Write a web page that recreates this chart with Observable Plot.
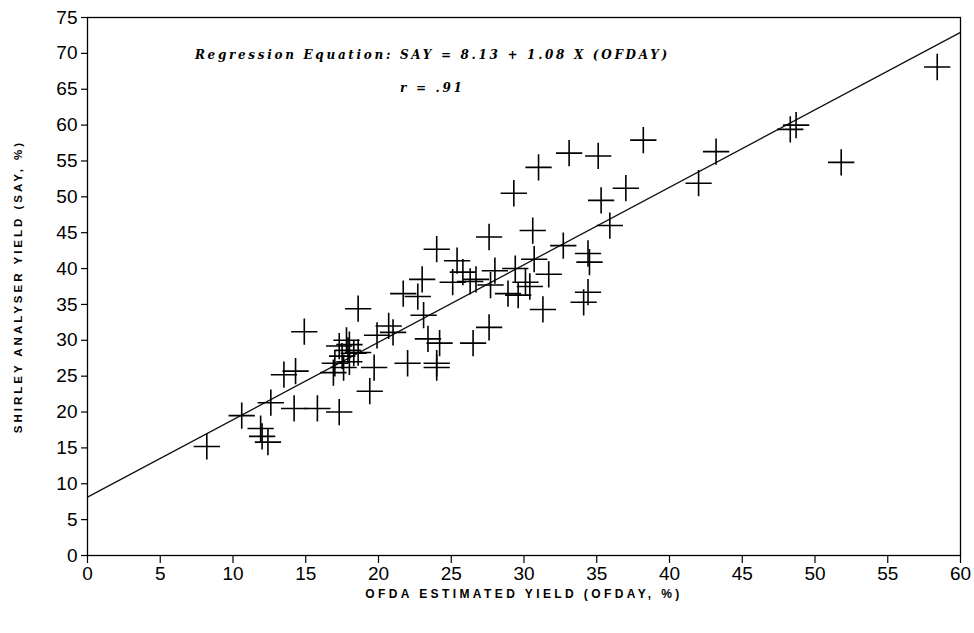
<!DOCTYPE html>
<html>
<head>
<meta charset="utf-8">
<script src="https://cdn.jsdelivr.net/npm/d3@7"></script>
<script src="https://cdn.jsdelivr.net/npm/@observablehq/plot@0.6"></script>
<style>
  html, body { margin: 0; padding: 0; background: #fff; }
  #chart svg { display: block; }
</style>
</head>
<body>
<div id="chart"></div>
<script>
// OFDA estimated yield (x) and Shirley Analyser yield (y), %
const ofday = [8.2, 10.6, 11.9, 12.0, 12.4, 12.6, 13.5, 14.3, 14.2, 14.9, 15.8, 17.3, 16.9, 17.0, 17.3, 17.5, 17.8, 17.9, 18.0, 18.3, 18.6, 17.6, 18.0, 18.6, 19.4, 19.7, 19.9, 20.7, 21.0, 21.7, 22.0, 22.7, 23.0, 23.1, 23.4, 24.0, 24.2, 24.0, 24.0, 25.1, 25.4, 25.8, 26.3, 26.5, 26.7, 27.6, 27.6, 27.7, 28.0, 28.9, 29.3, 29.4, 29.6, 30.1, 30.4, 30.6, 30.7, 31.0, 31.3, 31.7, 32.7, 33.1, 34.4, 34.1, 34.4, 34.5, 35.1, 35.3, 35.9, 37.0, 38.2, 42.0, 43.2, 48.3, 48.7, 51.8, 58.4];
const say   = [15.2, 19.5, 17.7, 16.6, 15.8, 21.3, 25.2, 25.7, 20.5, 31.2, 20.5, 20.0, 25.5, 26.8, 29.2, 27.8, 30.0, 28.6, 27.0, 28.2, 28.3, 26.2, 29.4, 34.4, 22.9, 26.2, 30.7, 32.0, 31.1, 36.5, 26.8, 36.1, 38.5, 33.5, 30.2, 42.7, 29.6, 26.8, 26.2, 38.1, 41.1, 39.5, 38.2, 29.6, 38.5, 44.4, 31.8, 37.7, 39.7, 36.5, 50.5, 40.0, 36.3, 38.1, 37.5, 45.3, 41.3, 54.1, 34.3, 39.2, 43.2, 56.1, 36.7, 35.3, 42.1, 40.9, 55.7, 49.5, 46.0, 51.2, 57.9, 51.9, 56.3, 59.4, 60.0, 54.8, 68.1];

const intercept = 8.13;
const slope = 1.08;
const xDomain = [0, 60];
const yDomain = [0, 75];
const xTicks = d3.range(0, 61, 5);
const yTicks = d3.range(0, 76, 5);
const xLabel = "OFDA ESTIMATED YIELD (OFDAY, %)";
const yLabel = "SHIRLEY ANALYSER YIELD (SAY, %)";
const equationText = "Regression Equation: SAY = 8.13 + 1.08 X (OFDAY)";
const rText = "r = .91";
const annotX = [23.7, 23.7];
const annotY = [69.7, 65.2];

const points = ofday.map((x, i) => ({x, y: say[i]}));
const annots = [equationText, rText].map((t, i) => ({t, x: annotX[i], y: annotY[i]}));

const chart = Plot.plot({
  width: 974,
  height: 633,
  marginLeft: 87,
  marginRight: 14,
  marginTop: 17,
  marginBottom: 78,
  style: {fontFamily: "Liberation Sans, Arial, sans-serif", background: "#fff", color: "#000"},
  x: {domain: xDomain, ticks: xTicks, label: null},
  y: {domain: yDomain, ticks: yTicks, label: null},
  marks: [
    Plot.frame({stroke: "#000", strokeWidth: 1.3}),
    Plot.axisX({ticks: xTicks, tickSize: 8, tickPadding: 3, fontSize: 19, stroke: "#000", strokeWidth: 1.2, tickFormat: d => d}),
    Plot.axisY({ticks: yTicks, tickSize: 6, tickPadding: 4, fontSize: 19, stroke: "#000", strokeWidth: 1.2, tickFormat: d => d}),
    Plot.line(xDomain, {x: d => d, y: d => intercept + slope * d, stroke: "#111", strokeWidth: 1.3}),
    Plot.dot(points, {x: "x", y: "y", symbol: "plus", r: 8.5, stroke: "#000", strokeWidth: 1.6}),
    Plot.text(annots, {x: "x", y: "y", text: "t", fontSize: 12, fontWeight: "bold", fontStyle: "italic",
      fontFamily: "DejaVu Serif, serif", fill: "#000"}),
    Plot.text([xLabel], {frameAnchor: "bottom", dy: 42, fontSize: 12, fontWeight: "bold", fill: "#000"}),
    Plot.text([yLabel], {frameAnchor: "left", textAnchor: "middle", dx: -69, rotate: -90, fontSize: 11.5, fontWeight: "bold", fill: "#000"})
  ]
});

// letter spacing for the typewriter-like labels
d3.select(chart).selectAll("text").filter(function() { return this.textContent === xLabel; })
  .attr("letter-spacing", "3.4px");
d3.select(chart).selectAll("text").filter(function() { return this.textContent === yLabel; })
  .attr("letter-spacing", "3px");
d3.select(chart).selectAll("text").filter(function() {
  const s = this.textContent;
  return s === equationText || s === rText;
}).attr("letter-spacing", "2.7px");

document.getElementById("chart").appendChild(chart);
</script>
</body>
</html>
